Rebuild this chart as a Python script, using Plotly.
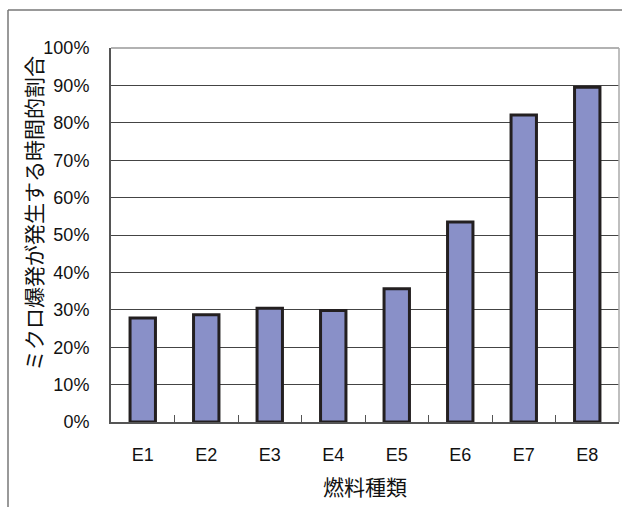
import plotly.graph_objects as go

categories = ["E1", "E2", "E3", "E4", "E5", "E6", "E7", "E8"]
values = [27.8, 28.7, 30.4, 29.8, 35.6, 53.5, 82.1, 89.5]
y_ticks = [0, 10, 20, 30, 40, 50, 60, 70, 80, 90, 100]
y_tick_labels = [f"{v}%" for v in y_ticks]
x_title = "燃料種類"
y_title = "ミクロ爆発が発生する時間的割合"

W, H = 622, 507
L, R, T, B = 111, 3, 48, 85
pw = W - L - R
ph = H - T - B

def px_x(p):
    return (p - L) / pw

def px_y(p):
    return (H - B - p) / ph

font_fam = "Liberation Sans, Arial, sans-serif"
cjk_fam = "Noto Sans CJK JP, sans-serif"

fig = go.Figure()
fig.add_trace(go.Bar(
    x=categories, y=values,
    marker=dict(color="#8990C8", line=dict(color="#231F20", width=3)),
    hoverinfo="skip",
))

fig.update_layout(
    width=W, height=H,
    margin=dict(l=L, r=R, t=T, b=B),
    paper_bgcolor="white", plot_bgcolor="white",
    bargap=0.6,
    showlegend=False,
    font=dict(family=font_fam, color="#111", size=18),
)
fig.update_xaxes(
    type="category",
    tickson="boundaries",
    ticks="inside", ticklen=7, tickcolor="#555", tickwidth=1,
    showline=True, linecolor="#555", linewidth=2,
    showgrid=False,
    ticklabelstandoff=15,
    tickfont=dict(size=18, family=font_fam, color="#111"),
    mirror=False,
)
fig.update_yaxes(
    range=[0, 100],
    tickvals=y_ticks, ticktext=y_tick_labels,
    showline=True, linecolor="#555", linewidth=2,
    showgrid=True, gridcolor="#444", gridwidth=1,
    ticks="", ticklabelstandoff=16,
    tickfont=dict(size=18, family=font_fam, color="#111"),
    zeroline=False,
)

# plot area border (top and right, light gray)
fig.add_shape(type="line", xref="paper", yref="paper", x0=0, x1=1, y0=1, y1=1,
              line=dict(color="#999", width=1.5))
fig.add_shape(type="line", xref="paper", yref="paper", x0=1, x1=1, y0=0, y1=1,
              line=dict(color="#aaa", width=1.5))

# outer frame
fig.add_shape(type="line", xref="paper", yref="paper",
              x0=px_x(8), x1=px_x(622), y0=px_y(10), y1=px_y(10),
              line=dict(color="#777", width=1.5))
fig.add_shape(type="line", xref="paper", yref="paper",
              x0=px_x(8), x1=px_x(8), y0=px_y(10), y1=px_y(507),
              line=dict(color="#777", width=1.5))

fig.add_annotation(text=y_title, xref="paper", yref="paper",
                   x=px_x(33), y=px_y(214), textangle=-90, showarrow=False,
                   font=dict(family=cjk_fam, size=21, color="#111"),
                   xanchor="center", yanchor="middle")
fig.add_annotation(text=x_title, xref="paper", yref="paper",
                   x=0.5, y=px_y(486), showarrow=False,
                   font=dict(family=cjk_fam, size=21, color="#111"),
                   xanchor="center", yanchor="middle")

fig.write_html("out.html")
